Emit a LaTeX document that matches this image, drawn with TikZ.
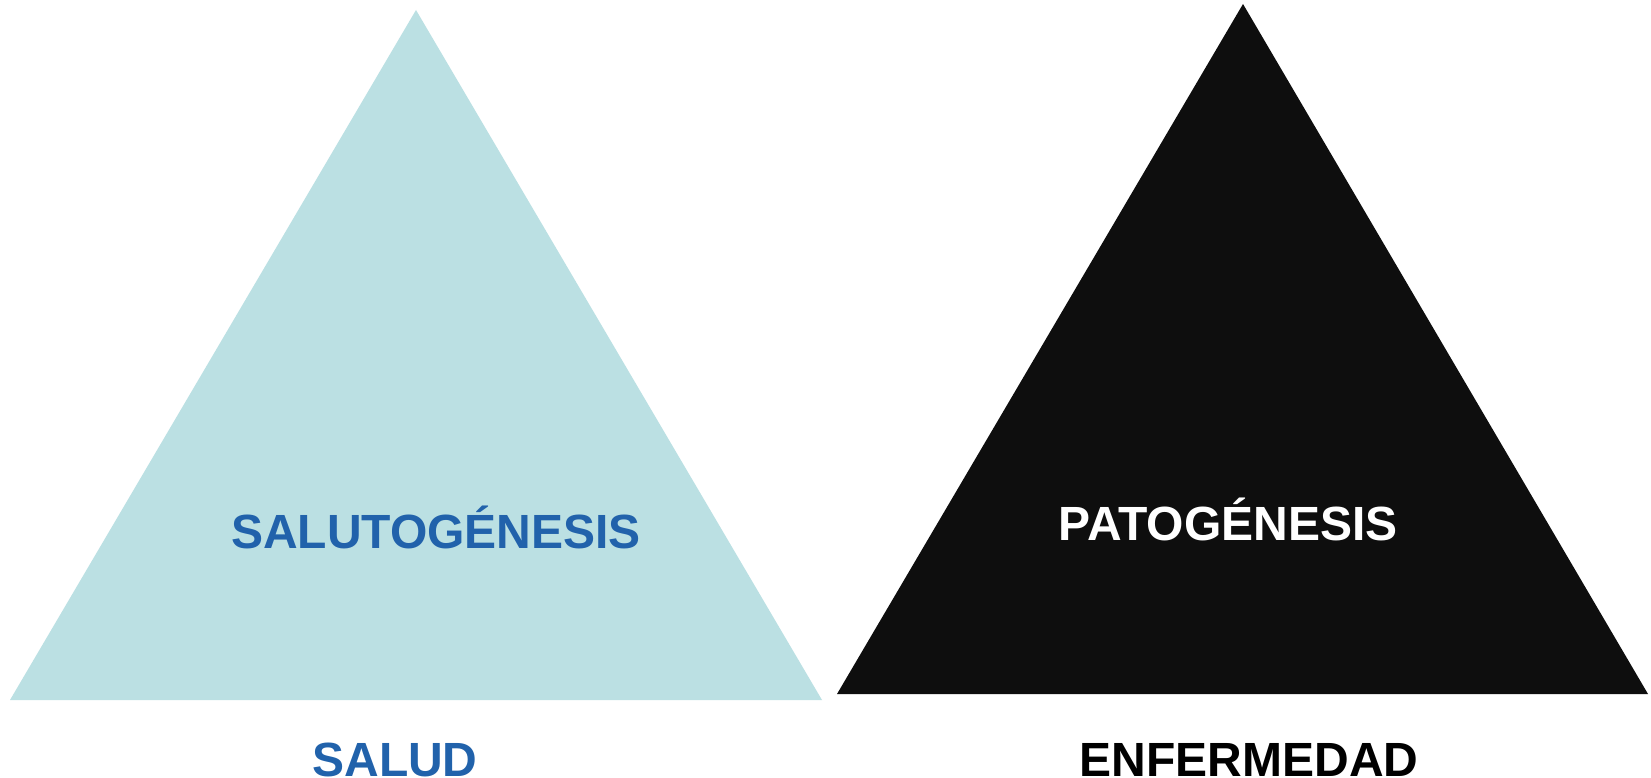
\documentclass[tikz,border=0pt]{standalone}
\usepackage{fontspec}
\setmainfont{Liberation Sans}
\definecolor{tealfill}{HTML}{BBE0E3}
\definecolor{bluetext}{HTML}{2162AB}
\definecolor{blackfill}{HTML}{0E0E0E}
\begin{document}
\begin{tikzpicture}[x=1pt,y=-1pt,
  lbl/.style={anchor=base,inner sep=0pt,font=\fontsize{48}{48}\selectfont\bfseries}]
\useasboundingbox (0,0) rectangle (1651,778);
\fill[white] (0,0) rectangle (1651,778);
% left triangle
\coordinate (la) at (416,10);
\coordinate (ll) at (10,700);
\coordinate (lr) at (822,700);
\fill[tealfill] (la) -- (ll) -- (lr) -- cycle;
% right triangle
\coordinate (ra) at (1243,4);
\coordinate (rl) at (837,694);
\coordinate (rr) at (1648,694);
\fill[blackfill] (ra) -- (rl) -- (rr) -- cycle;
% labels
\node[lbl,text=bluetext] (salut) at (436,548) {SALUTOGÉNESIS};
\node[lbl,text=white] (pato) at (1228,540) {PATOGÉNESIS};
\node[lbl,text=bluetext] (salud) at (395,776) {SALUD};
\node[lbl,text=black] (enf) at (1249,776) {ENFERMEDAD};
\end{tikzpicture}
\end{document}
